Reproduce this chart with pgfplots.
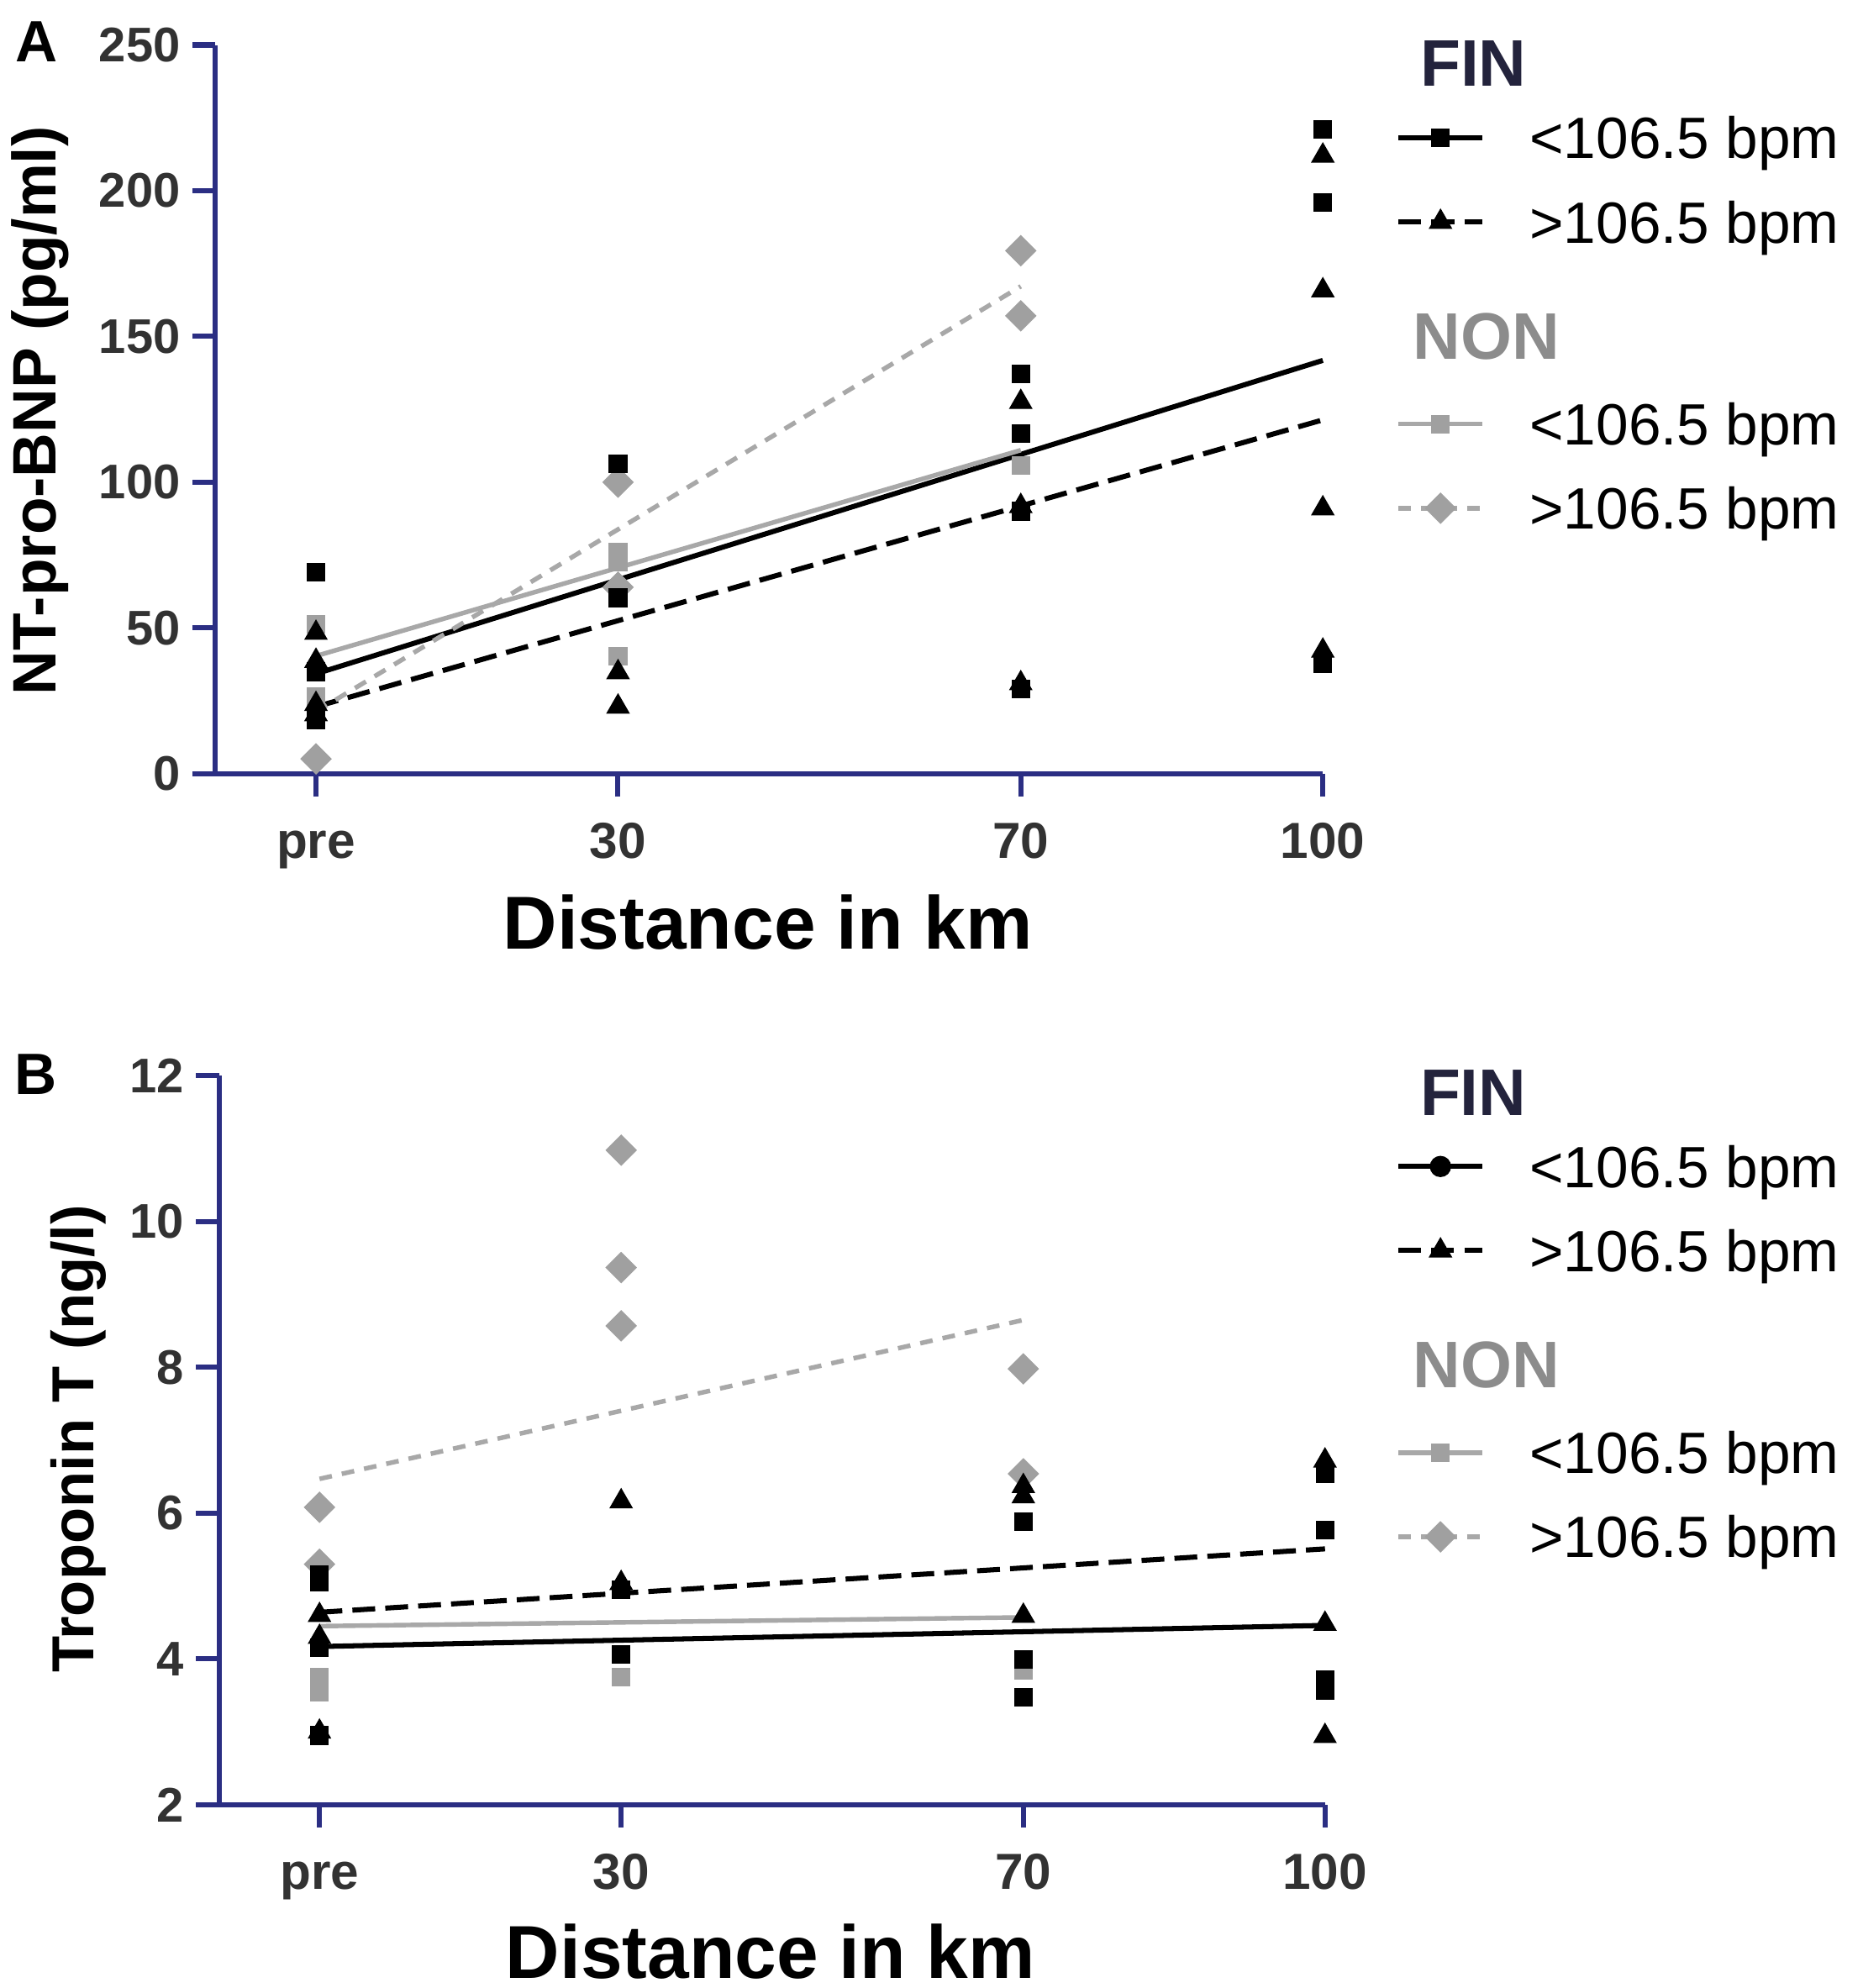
\documentclass[border=0pt]{standalone}
\usepackage{pgfplots}
\pgfplotsset{compat=1.18}
\usepackage{fontspec}
\setmainfont{Liberation Sans}
\definecolor{axnavy}{RGB}{43,46,131}
\definecolor{tlab}{RGB}{50,50,50}
\definecolor{finhead}{RGB}{35,35,60}
\definecolor{nonhead}{RGB}{140,140,140}
\definecolor{ngray}{RGB}{160,160,160}
\definecolor{nline}{RGB}{168,168,168}
\pgfplotsset{
  finlo/.style={black, line width=1pt, mark=square*, mark size=1.75pt, mark options={solid, line width=0.2pt}},
  finloB/.style={black, line width=1pt, mark=*, mark size=2pt, mark options={solid, line width=0.2pt}},
  finhi/.style={black, line width=1pt, dash pattern=on 4.5pt off 2pt, mark=triangle*, mark size=2.5pt, mark options={solid, line width=0.2pt}},
  nonlo/.style={nline, line width=0.9pt, mark=square*, mark size=1.75pt, mark options={solid, line width=0.2pt, draw=ngray, fill=ngray}},
  nonhi/.style={nline, line width=0.9pt, dash pattern=on 2.5pt off 2pt, mark=square*, mark size=2.1pt, mark options={solid, rotate=45, line width=0.2pt, draw=ngray, fill=ngray}},
  panel/.style={
    scale only axis, height=143.8pt,
    xmin=-10, xmax=100,
    axis x line*=bottom, axis y line*=left,
    axis line style={-, draw=axnavy, line width=1pt},
    xtick={0,30,70,100}, xticklabels={pre,30,70,100},
    tick align=outside, major tick length=4.5pt,
    tick style={draw=axnavy, line width=1pt},
    minor tick num=0,
    /pgf/number format/assume math mode=true,
    xticklabel style={font=\fontsize{10}{12}\selectfont\bfseries, text=tlab, inner sep=0pt, anchor=north, yshift=-4.75pt, text height=7.2pt, text depth=0pt},
    yticklabel style={font=\fontsize{9.6}{11}\selectfont\bfseries, text=tlab, inner sep=0pt, anchor=east, xshift=-2.2pt},
    clip=false,
    legend image code/.code={\draw[mark repeat=2,mark phase=2] plot coordinates {(0pt,0pt) (8.3pt,0pt) (16.6pt,0pt)};},
    legend style={draw=none, fill=none, inner sep=0pt, outer sep=0pt, anchor=north west, column sep=8.8pt,
      cells={anchor=west},
      nodes={inner sep=0pt, text height=12.42pt, text depth=4.18pt, font=\fontsize{11.5}{13}\selectfont}},
    xlabel={Distance in km},
  }
}
\newcommand{\hdr}[3]{\makebox[0pt][l]{\hspace*{#1}\fontsize{13}{13}\selectfont\bfseries\color{#2}#3}}
\begin{document}
\begin{tikzpicture}
\path[use as bounding box] (0pt,0pt) rectangle (367.5pt,-392.25pt);
\node[font=\fontsize{11.5}{12}\selectfont\bfseries, inner sep=0pt] at (7.25pt,-8.25pt) {A};
\node[font=\fontsize{11.5}{12}\selectfont\bfseries, inner sep=0pt] at (7.0pt,-212.0pt) {B};

% ---------------- Panel A ----------------
\begin{axis}[panel, at={(42.475pt,-152.675pt)}, anchor=south west, width=218.5pt,
  ymin=0, ymax=250, ytick={0,50,100,150,200,250},
  ylabel={NT-pro-BNP (pg/ml)},
  ylabel style={at={(axis description cs:-0.158,0.498)}, anchor=center, font=\fontsize{12.1}{14}\selectfont\bfseries},
  xlabel style={at={(axis description cs:0.4989,-0.2404)}, anchor=base, font=\fontsize{14.8}{16}\selectfont\bfseries},
  legend style={at={(axis description cs:1.066,1.0127)}},
]
\addlegendimage{empty legend}
\addlegendentry[anchor=base west, text height=10pt, text depth=1.85pt]{\hdr{-22.1pt}{finhead}{FIN}}
\addlegendimage{finlo}
\addlegendentry{<106.5 bpm}
\addlegendimage{finhi}
\addlegendentry{>106.5 bpm}
\addlegendimage{empty legend}
\addlegendentry[anchor=base west, text height=18.7pt, text depth=4.57pt]{\hdr{-23.5pt}{nonhead}{NON}}
\addlegendimage{nonlo}
\addlegendentry{<106.5 bpm}
\addlegendimage{nonhi}
\addlegendentry{>106.5 bpm}

% NON <106.5 points
\addplot[nonlo, only marks, forget plot] coordinates {(0,51.2) (0,26.5) (30,76) (30,72.6) (30,40.4) (70,105.7)};
% NON >106.5 points
\addplot[nonhi, only marks, forget plot] coordinates {(0,5.1) (30,100) (30,64) (70,179.4) (70,157.1)};
% FIN <106.5 points
\addplot[finlo, only marks, forget plot] coordinates {(0,69.2) (0,35) (0,18.5) (30,106.3) (30,60.4) (70,137.1) (70,116.7) (70,90) (70,29.1) (100,221) (100,196) (100,37.8)};
% FIN >106.5 points
\addplot[finhi, only marks, forget plot] coordinates {(0,48.3) (0,38.7) (0,23.9) (0,20.4) (30,34.8) (30,23) (70,127.5) (70,91.8) (70,31) (100,212) (100,165.8) (100,91) (100,42.2)};
% regression lines
\addplot[finlo, no marks, forget plot] coordinates {(0,34.3) (100,141.8)};
\addplot[finhi, no marks, forget plot] coordinates {(0,23) (100,121.4)};
\addplot[nonlo, no marks, forget plot] coordinates {(0,40.4) (70,111)};
\addplot[nonhi, no marks, forget plot] coordinates {(0,21.3) (70,167.2)};
\end{axis}

% ---------------- Panel B ----------------
\begin{axis}[panel, at={(43.2pt,-356.075pt)}, anchor=south west, width=218.2pt,
  ymin=2, ymax=12, ytick={2,4,6,8,10,12},
  ylabel={Troponin T (ng/l)},
  ylabel style={at={(axis description cs:-0.127,0.502)}, anchor=center, font=\fontsize{11.7}{14}\selectfont\bfseries},
  xlabel style={at={(axis description cs:0.4986,-0.2377)}, anchor=base, font=\fontsize{14.8}{16}\selectfont\bfseries},
  legend style={at={(axis description cs:1.0641,1.0158)}},
]
\addlegendimage{empty legend}
\addlegendentry[anchor=base west, text height=10pt, text depth=1.85pt]{\hdr{-22.1pt}{finhead}{FIN}}
\addlegendimage{finloB}
\addlegendentry{<106.5 bpm}
\addlegendimage{finhi}
\addlegendentry{>106.5 bpm}
\addlegendimage{empty legend}
\addlegendentry[anchor=base west, text height=18.7pt, text depth=4.57pt]{\hdr{-23.5pt}{nonhead}{NON}}
\addlegendimage{nonlo}
\addlegendentry{<106.5 bpm}
\addlegendimage{nonhi}
\addlegendentry{>106.5 bpm}

% NON <106.5 points
\addplot[nonlo, only marks, forget plot] coordinates {(0,3.75) (0,3.55) (30,3.75) (70,3.85)};
% NON >106.5 points
\addplot[nonhi, only marks, forget plot] coordinates {(0,6.08) (0,5.3) (30,10.98) (30,9.37) (30,8.57) (70,7.98) (70,6.54)};
% FIN <106.5 points
\addplot[finlo, only marks, forget plot] coordinates {(0,5.15) (0,5.05) (0,4.15) (0,2.95) (30,4.95) (30,4.06) (70,5.88) (70,3.99) (70,3.47) (100,6.54) (100,5.77) (100,3.71) (100,3.57)};
% FIN >106.5 points
\addplot[finhi, only marks, forget plot] coordinates {(0,4.6) (0,4.3) (0,3.0) (30,6.16) (30,5.04) (70,6.37) (70,6.23) (70,4.59) (100,6.72) (100,4.48) (100,2.94)};
% regression lines
\addplot[finlo, no marks, forget plot] coordinates {(0,4.17) (100,4.46)};
\addplot[finhi, no marks, forget plot] coordinates {(0,4.64) (100,5.51)};
\addplot[nonlo, no marks, forget plot] coordinates {(0,4.45) (70,4.57)};
\addplot[nonhi, no marks, forget plot] coordinates {(0,6.47) (70,8.65)};
\end{axis}
\end{tikzpicture}
\end{document}
